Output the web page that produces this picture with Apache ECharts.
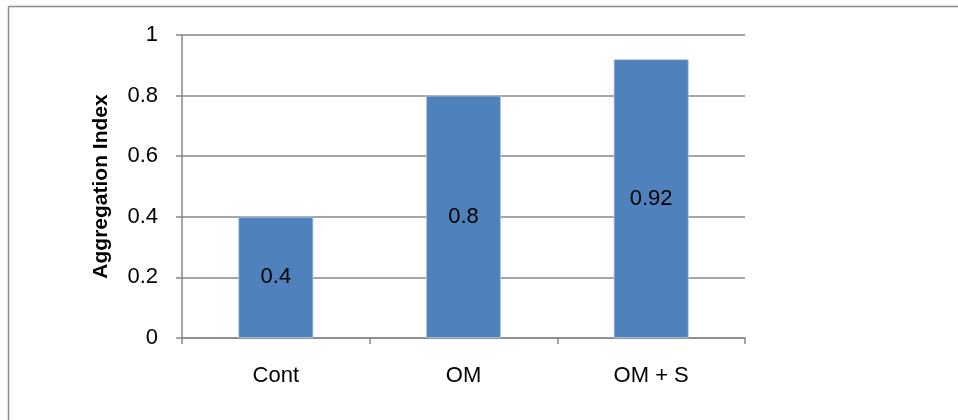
<!DOCTYPE html>
<html>
<head>
<meta charset="utf-8">
<script src="https://cdn.jsdelivr.net/npm/echarts@6/dist/echarts.min.js"></script>
<style>
  html, body { margin: 0; padding: 0; background: #fff; }
  #chart { width: 958px; height: 420px; }
</style>
</head>
<body>
<div id="chart"></div>
<script>
// Aggregation index per treatment
const categories = ['Cont', 'OM', 'OM + S'];
const aggregationIndex = [0.4, 0.8, 0.92];
const yTicks = [0, 0.2, 0.4, 0.6, 0.8, 1];

const FONT = '"Liberation Sans", "DejaVu Sans", sans-serif';
const AXIS_GREY = '#878787';

const chart = echarts.init(document.getElementById('chart'), null, { renderer: 'canvas' });

chart.setOption({
  animation: false,
  backgroundColor: '#ffffff',
  grid: { left: 182, right: 213, top: 35, bottom: 82, containLabel: false },
  graphic: [
    // frame lines along the top and left edges
    { type: 'line', shape: { x1: 8.5, y1: 6.5, x2: 958, y2: 6.5 }, style: { stroke: '#8c8c8c', lineWidth: 1.5 } },
    { type: 'line', shape: { x1: 8.5, y1: 6.5, x2: 8.5, y2: 420 }, style: { stroke: '#8c8c8c', lineWidth: 1.5 } }
  ],
  xAxis: {
    type: 'category',
    data: categories,
    axisLine: { show: true, lineStyle: { color: AXIS_GREY, width: 1.5 } },
    axisTick: { show: true, alignWithLabel: false, length: 6, lineStyle: { color: AXIS_GREY, width: 1.5 } },
    axisLabel: { color: '#000', fontFamily: FONT, fontSize: 22, margin: 27 },
    splitLine: { show: false }
  },
  yAxis: {
    type: 'value',
    min: 0,
    max: 1,
    interval: 0.2,
    name: 'Aggregation Index',
    nameLocation: 'middle',
    nameGap: 70,
    nameRotate: 90,
    nameTextStyle: { color: '#000', fontFamily: FONT, fontSize: 21, fontWeight: 'bold' },
    axisLine: { show: true, lineStyle: { color: AXIS_GREY, width: 1.5 } },
    axisTick: { show: true, length: 6, lineStyle: { color: AXIS_GREY, width: 1.5 } },
    axisLabel: {
      color: '#000', fontFamily: FONT, fontSize: 22, margin: 24,
      formatter: function (v) {
        const t = yTicks.find(function (x) { return Math.abs(x - v) < 1e-9; });
        return t === undefined ? '' : String(t);
      }
    },
    splitLine: { show: true, lineStyle: { color: AXIS_GREY, width: 1.5 } }
  },
  series: [{
    type: 'bar',
    data: aggregationIndex,
    barWidth: 75,
    itemStyle: { color: '#4f81bd', borderColor: '#b9cde5', borderWidth: 0.8 },
    label: {
      show: true,
      position: 'inside',
      color: '#000',
      fontFamily: FONT,
      fontSize: 22,
      formatter: function (p) { return String(p.value); }
    }
  }]
});
</script>
</body>
</html>
